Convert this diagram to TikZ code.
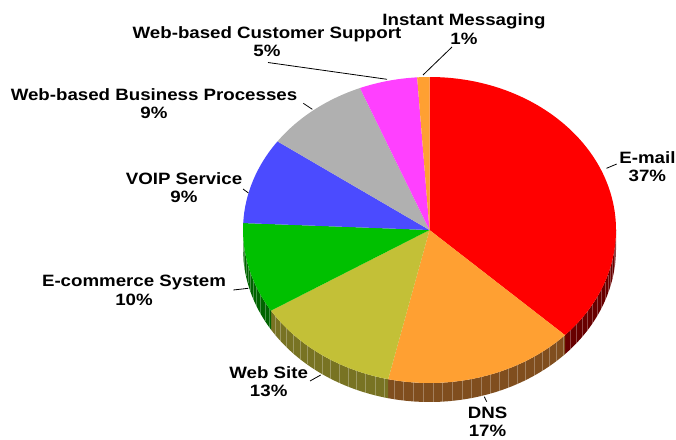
\documentclass[tikz,border=0pt]{standalone}
\usepackage{fontspec}
\newfontfamily\lblfont{Liberation Sans}[FakeStretch=1.14]
\usetikzlibrary{calc}

% slice colours: top faces and the darker rim
\definecolor{topRed}{RGB}{255,0,0}
\definecolor{topDns}{RGB}{255,160,50}
\definecolor{topOlive}{RGB}{195,192,55}
\definecolor{topGreen}{RGB}{0,192,0}
\definecolor{topBlue}{RGB}{75,75,255}
\definecolor{topGray}{RGB}{176,176,176}
\definecolor{topPink}{RGB}{255,64,255}
\definecolor{topIm}{RGB}{255,160,50}
\definecolor{sideRed}{RGB}{104,0,0}
\definecolor{sideDns}{RGB}{128,78,30}
\definecolor{sideOlive}{RGB}{120,115,35}
\definecolor{sideGreen}{RGB}{0,100,0}

% labels are placed by the baseline of their last line
\tikzset{
  lbl/.style={font=\lblfont\bfseries\fontsize{16.4}{18.4}\selectfont,
              align=center, inner sep=0pt, anchor=base},
  leader/.style={draw=black, line width=0.8pt},
  stripe/.style={draw=white, draw opacity=0.28, line width=0.5pt},
  pieR/.style={x radius=186.5, y radius=153}
}

\begin{document}
\begin{tikzpicture}[x=1pt,y=-1pt]
\useasboundingbox (0,0) rectangle (676,439);
\coordinate (ctr) at (429.5,230);

% rim of the front half
\foreach \a/\b/\c in {0/43.4/sideRed, 43.4/102.8/sideDns,
                      102.8/148.2/sideOlive, 148.2/180/sideGreen}{
  \fill[\c] ($(ctr)+({186.5*cos(\a)},{153*sin(\a)})$)
    arc[start angle=\a, end angle=\b, pieR]
    -- ++(0,19)
    arc[start angle=\b, end angle=\a, pieR]
    -- cycle;
}
\foreach \t in {2,5,...,179}{
  \draw[stripe] ($(ctr)+({186.5*cos(\t)},{153*sin(\t)})$) -- ++(0,19);
}

% top faces of the slices
\foreach \a/\b/\c in {-90/43.4/topRed, 43.4/102.8/topDns,
                      102.8/148.2/topOlive, 148.2/182.6/topGreen,
                      182.6/215.4/topBlue, 215.4/248.1/topGray,
                      248.1/266.2/topPink, 266.2/270/topIm}{
  \fill[\c] (ctr) -- ($(ctr)+({186.5*cos(\a)},{153*sin(\a)})$)
    arc[start angle=\a, end angle=\b, pieR]
    -- cycle;
}

% labels
\node[lbl] (email) at (647.4,181.7) {E-mail\\37\%};
\node[lbl] (dns)   at (487.5,436.8) {DNS\\17\%};
\node[lbl] (web)   at (268.7,396.7) {Web Site\\13\%};
\node[lbl] (ecom)  at (134,305.1)   {E-commerce System\\10\%};
\node[lbl] (voip)  at (184,202.9)   {VOIP Service\\9\%};
\node[lbl] (wbp)   at (154,118.4)   {Web-based Business Processes\\9\%};
\node[lbl] (wcs)   at (267,56.7)    {Web-based Customer Support\\5\%};
\node[lbl] (im)    at (464,44.1)    {Instant Messaging\\1\%};

% leader lines: pie edge to label
\coordinate (emailP) at (606.5,168.3); \coordinate (emailT) at (616.7,164);
\coordinate (dnsP)   at (484.3,396.7); \coordinate (dnsT)   at (486.7,401.7);
\coordinate (webP)   at (320.7,375);   \coordinate (webT)   at (310,381);
\coordinate (ecomP)  at (248.3,288.3); \coordinate (ecomT)  at (233.3,290);
\coordinate (voipP)  at (248.5,193);   \coordinate (voipT)  at (243,189);
\coordinate (wbpP)   at (312.3,109.3); \coordinate (wbpT)   at (303.3,103.3);
\coordinate (wcsP)   at (387,79.3);    \coordinate (wcsT)   at (268,62.5);
\coordinate (imP)    at (423,75);      \coordinate (imT)    at (452,47);
\foreach \n in {email,dns,web,ecom,voip,wbp,wcs,im}{
  \draw[leader] (\n P) -- (\n T);
}
\end{tikzpicture}
\end{document}
